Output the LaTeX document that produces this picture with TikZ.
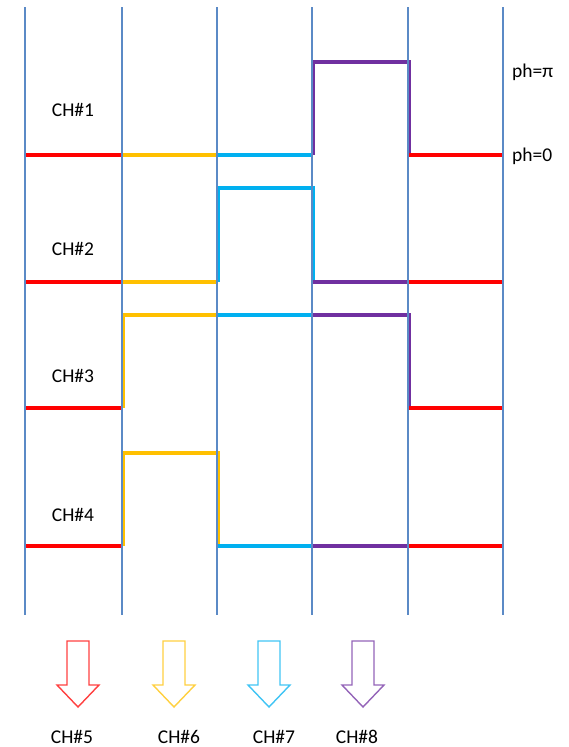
\documentclass[tikz,border=0pt]{standalone}
\usepackage{fontspec}
\setmainfont{Carlito}
\definecolor{chred}{HTML}{FF0000}
\definecolor{chyel}{HTML}{FFC000}
\definecolor{chblu}{HTML}{00B0F0}
\definecolor{chpur}{HTML}{7030A0}
\definecolor{gridblu}{HTML}{5B8AC6}
\begin{document}
\begin{tikzpicture}[x=1pt, y=-1pt, line join=miter,
    sig/.style={line width=4pt},
    slot/.style={gridblu, line width=1.3pt},
    lbl/.style={font=\fontsize{19.5}{22}\selectfont, inner sep=0pt},
    outarrow/.style={line width=1.4pt}]
  \useasboundingbox (0,0) rectangle (569,747);
  % Signal levels (low, high) per channel.
  \def\loA{155} \def\hiA{62}
  \def\loB{282} \def\hiB{188}
  \def\loC{408} \def\hiC{315}
  \def\loD{546} \def\hiD{453}
  % CH#1.
  \draw[sig, chred] (25,\loA) -- (122,\loA);
  \draw[sig, chyel] (122,\loA) -- (217,\loA);
  \draw[sig, chblu] (217,\loA) -- (313,\loA);
  \draw[sig, chpur] (313,\loA) -- (313,\hiA) -- (409,\hiA) -- (409,\loA);
  \draw[sig, chred] (409,\loA) -- (503,\loA);
  % CH#2.
  \draw[sig, chred] (25,\loB) -- (122,\loB);
  \draw[sig, chyel] (122,\loB) -- (218,\loB);
  \draw[sig, chblu] (218,\loB) -- (218,\hiB) -- (313,\hiB) -- (313,\loB);
  \draw[sig, chpur] (313,\loB) -- (408,\loB);
  \draw[sig, chred] (408,\loB) -- (503,\loB);
  % CH#3.
  \draw[sig, chred] (25,\loC) -- (123,\loC);
  \draw[sig, chyel] (123,\loC) -- (123,\hiC) -- (217,\hiC);
  \draw[sig, chblu] (217,\hiC) -- (312,\hiC);
  \draw[sig, chpur] (312,\hiC) -- (409,\hiC) -- (409,\loC);
  \draw[sig, chred] (409,\loC) -- (503,\loC);
  % CH#4.
  \draw[sig, chred] (25,\loD) -- (123,\loD);
  \draw[sig, chyel] (123,\loD) -- (123,\hiD) -- (218,\hiD) -- (218,\loD);
  \draw[sig, chblu] (218,\loD) -- (312,\loD);
  \draw[sig, chpur] (312,\loD) -- (408,\loD);
  \draw[sig, chred] (408,\loD) -- (503,\loD);
  % Time slots.
  \foreach \x in {25,122,217,312,408,503}
    \draw[slot] (\x,7) -- (\x,615);
  % Channel labels.
  \node[lbl] (ch1) at (73,110) {CH\#1};
  \node[lbl] (ch2) at (73,249) {CH\#2};
  \node[lbl] (ch3) at (73,376) {CH\#3};
  \node[lbl] (ch4) at (73,515) {CH\#4};
  \node[lbl, anchor=west] (phpi) at (512,72) {ph=π};
  \node[lbl, anchor=west] (phzero) at (512,156) {ph=0};
  % Output arrows.
  \foreach \c/\col/\n in {78/chred/5, 174/chyel/6, 269/chblu/7, 363/chpur/8} {
    \draw[outarrow, \col!75] (\c-11,641) -- (\c+11,641) -- (\c+11,685)
      -- (\c+21,685) -- (\c,707) -- (\c-21,685) -- (\c-11,685) -- cycle;
  }
  \node[lbl] (ch5) at (72,737) {CH\#5};
  \node[lbl] (ch6) at (179,737) {CH\#6};
  \node[lbl] (ch7) at (274,737) {CH\#7};
  \node[lbl] (ch8) at (357,737) {CH\#8};
\end{tikzpicture}
\end{document}
